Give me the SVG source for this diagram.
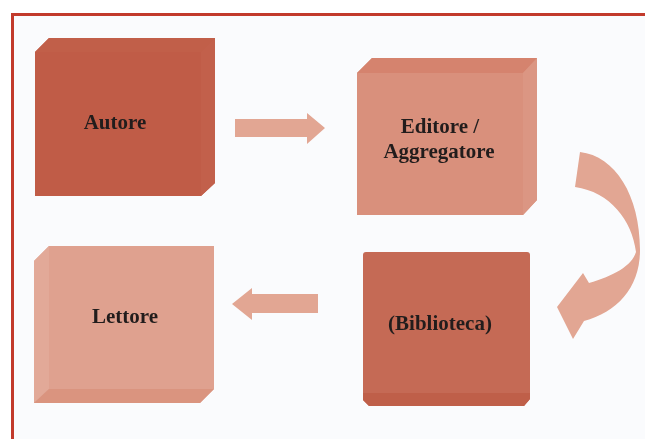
<svg xmlns="http://www.w3.org/2000/svg" width="645" height="439" viewBox="0 0 645 439">
  <style>
    .lbl { font-family: "Liberation Serif", "DejaVu Serif", serif; font-weight: bold; font-size: 21px; fill: #231f1e; text-anchor: middle; }
    .flow { fill: #e2a693; }
  </style>
  <defs>
    <filter id="soft" x="-5%" y="-5%" width="110%" height="110%">
      <feGaussianBlur stdDeviation="0.6"/>
    </filter>
  </defs>

  <!-- page and frame -->
  <rect x="0" y="0" width="645" height="439" fill="#ffffff"/>
  <rect x="12.5" y="14.5" width="640" height="440" fill="#fafbfd" stroke="#c23a2c" stroke-width="3"/>

  <!-- Autore: block with depth toward the upper right -->
  <g id="autore" filter="url(#soft)">
    <polygon points="35,52 49,38 215,38 215,183 201,196 35,196" fill="#c05c47"/>
    <polygon points="201,52 215,38 215,183 201,196" fill="#c2604b"/>
    <polygon points="35,52 49,38 215,38 201,52" fill="#c15e49"/>
    <text class="lbl" x="115" y="129">Autore</text>
  </g>

  <!-- Editore / Aggregatore -->
  <g id="editore" filter="url(#soft)">
    <polygon points="357,73 372,58 537,58 537,200 523,215 357,215" fill="#d9907c"/>
    <polygon points="357,73 372,58 537,58 523,73" fill="#d5836e"/>
    <polygon points="523,73 537,58 537,200 523,215" fill="#db9683"/>
    <text class="lbl" x="440" y="133">Editore /</text>
    <text class="lbl" x="439" y="158">Aggregatore</text>
  </g>

  <!-- Lettore: block with depth toward the lower left -->
  <g id="lettore" filter="url(#soft)">
    <polygon points="34,261 49,246 214,246 214,389 200,403 34,403" fill="#dfa18f"/>
    <polygon points="34,261 49,246 49,389 34,403" fill="#e2a998"/>
    <polygon points="49,389 214,389 200,403 34,403" fill="#da947f"/>
    <text class="lbl" x="125" y="323">Lettore</text>
  </g>

  <!-- (Biblioteca) -->
  <g id="biblioteca" filter="url(#soft)">
    <path d="M363,255 Q363,252 366,252 L527,252 Q530,252 530,255 L530,399 L524,406 L369,406 L363,400 Z" fill="#c56a55"/>
    <path d="M363,393 L530,393 L530,399 L524,406 L369,406 L363,400 Z" fill="#bf5e49"/>
    <text class="lbl" x="440" y="330">(Biblioteca)</text>
  </g>

  <!-- connectors -->
  <g id="connectors" filter="url(#soft)">
    <path class="flow" d="M235,119 L307,119 L307,113 L325,128 L307,144 L307,137 L235,137 Z"/>
    <path class="flow" d="M318,294 L252,294 L252,288 L232,304 L252,320 L252,313 L318,313 Z"/>
    <path class="flow" d="M580,152 C615,156 640,195 640,250 C640,288 617,312 584,321 L573,339 L557,307 L583,273 L589,283 C613,276 632,266 636,252 C632,220 610,192 575,187 Z"/>
  </g>
</svg>
